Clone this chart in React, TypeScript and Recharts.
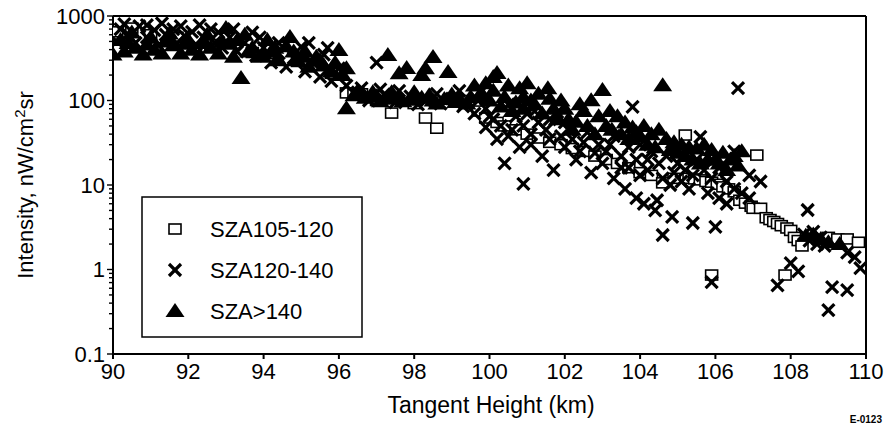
import React from "react";
import { ScatterChart, Scatter, XAxis, YAxis, ReferenceLine } from "recharts";

type Pt = [number, number];

const xTicks = [90, 92, 94, 96, 98, 100, 102, 104, 106, 108, 110];
const yMajorTicks = [0.1, 1, 10, 100, 1000];
const yMinorTicks = [
  0.2, 0.3, 0.4, 0.5, 0.6, 0.7, 0.8, 0.9,
  2, 3, 4, 5, 6, 7, 8, 9,
  20, 30, 40, 50, 60, 70, 80, 90,
  200, 300, 400, 500, 600, 700, 800, 900,
];
const seriesNames = ["SZA105-120", "SZA120-140", "SZA>140"];

const sza105to120: Pt[] = [
  [90.1, 650], [90.5, 720], [91.0, 600], [91.7, 560], [92.6, 460], [93.7, 370], [94.9, 290],
  [95.8, 210], [96.2, 123], [96.4, 118], [96.6, 120], [97.0, 100], [97.4, 71], [98.0, 92],
  [98.3, 62], [98.6, 47], [99.35, 100], [99.7, 75], [99.9, 62], [100.2, 55], [100.4, 50],
  [100.7, 45], [101.0, 40], [101.3, 36], [101.6, 32], [101.9, 30], [102.2, 27], [102.5, 25],
  [102.8, 22], [103.1, 20], [103.4, 18], [103.7, 16], [104.0, 14], [104.3, 13], [104.6, 10.6],
  [104.9, 12], [105.2, 39], [105.3, 12], [105.45, 11.8], [105.6, 11.5], [105.75, 11],
  [105.9, 10.8], [106.05, 10.2], [106.2, 9.5], [106.35, 9], [106.5, 8.3], [106.65, 6.6],
  [106.8, 6.1], [106.95, 5.6], [107.0, 5.3], [107.1, 22.6], [107.2, 5.3], [107.35, 4.1],
  [107.45, 3.9], [107.55, 3.7], [107.65, 3.5], [107.75, 3.3], [107.9, 3.1], [108.0, 2.9],
  [108.1, 2.4], [108.2, 2.2], [108.3, 1.9], [109.0, 2.4], [109.25, 2.3], [109.5, 2.3],
  [109.8, 2.1], [105.9, 0.86], [107.85, 0.86],
];

const sza120to140: Pt[] = [
  [90.1, 500], [90.2, 700], [90.3, 800], [90.4, 600], [90.6, 480], [90.7, 760], [90.9, 560],
  [90.9, 780], [91.1, 680], [91.2, 450], [91.3, 820], [91.4, 600], [91.6, 700], [91.7, 480],
  [91.8, 760], [91.9, 580], [92.1, 650], [92.2, 460], [92.3, 780], [92.4, 560], [92.6, 700],
  [92.7, 480], [92.8, 640], [92.9, 420], [93.1, 560], [93.2, 700], [93.3, 380], [93.5, 480],
  [93.7, 640], [93.8, 340], [93.9, 560], [94.0, 420], [94.2, 280], [94.4, 360], [94.4, 480],
  [94.6, 250], [94.8, 320], [95.0, 430], [95.1, 220], [95.2, 480], [95.3, 280], [95.5, 190],
  [95.6, 350], [95.7, 420], [95.8, 170], [96.0, 240], [96.2, 150], [97.0, 280], [96.5, 125],
  [96.6, 140], [96.8, 100], [97.1, 135], [97.2, 118], [97.5, 95], [97.6, 130], [97.9, 112],
  [98.1, 90], [98.3, 98], [98.6, 120], [98.7, 92], [99.0, 105], [99.2, 130], [99.3, 85],
  [99.6, 70], [99.7, 100], [99.8, 130], [99.9, 48], [99.9, 80], [100.0, 65], [100.1, 60],
  [100.2, 35], [100.3, 50], [100.4, 18], [100.5, 90], [100.5, 38], [100.6, 45], [100.7, 65],
  [100.8, 28], [100.9, 10.3], [100.9, 50], [101.0, 70], [101.1, 40], [101.1, 30], [101.2, 75],
  [101.3, 55], [101.4, 22], [101.5, 45], [101.6, 35], [101.6, 60], [101.7, 15], [101.8, 73],
  [101.9, 38], [102.0, 28], [102.0, 55], [102.1, 45], [102.2, 35], [102.3, 20], [102.4, 25],
  [102.5, 32], [102.6, 42], [102.7, 14], [102.8, 24], [102.9, 30], [103.0, 18], [103.1, 25],
  [103.2, 30], [103.3, 12], [103.3, 38], [103.5, 22], [103.5, 16], [103.6, 9], [103.7, 16],
  [103.7, 28], [103.8, 84], [103.9, 7], [103.9, 20], [104.0, 13], [104.0, 30], [104.1, 6],
  [104.2, 20], [104.2, 15], [104.3, 25], [104.4, 5], [104.45, 6.6], [104.5, 18], [104.6, 2.56],
  [104.6, 12], [104.7, 22], [104.8, 10], [104.85, 4.2], [104.9, 14], [105.0, 18], [105.1, 11],
  [105.2, 15], [105.4, 3.55], [105.3, 9], [105.4, 13], [105.6, 37], [105.5, 20], [105.7, 15],
  [105.8, 8], [105.9, 12], [106.0, 3.2], [105.9, 0.71], [106.1, 7], [106.1, 16], [106.3, 11],
  [106.5, 25], [106.5, 9], [106.3, 6], [106.6, 140], [106.7, 8], [106.9, 7], [106.9, 13],
  [107.2, 11], [107.65, 0.65], [108.0, 1.19], [108.2, 0.95], [108.45, 5.06], [108.35, 2.6],
  [108.5, 2.2], [108.6, 2.8], [108.7, 2.0], [108.8, 2.4], [108.9, 1.9], [109.0, 0.33],
  [109.1, 0.62], [109.5, 0.57], [109.5, 1.58], [109.7, 1.4], [109.85, 1.04],
];

const szaOver140: Pt[] = [
  [90.0, 350], [90.2, 520], [90.3, 380], [90.4, 480], [90.5, 640], [90.6, 420], [90.8, 350],
  [90.9, 460], [91.0, 560], [91.1, 400], [91.3, 360], [91.4, 500], [91.5, 620], [91.6, 450],
  [91.8, 360], [91.9, 470], [92.0, 520], [92.1, 400], [92.3, 350], [92.4, 480], [92.5, 600],
  [92.6, 420], [92.8, 360], [92.9, 500], [93.0, 720], [93.1, 470], [93.2, 330], [93.3, 520],
  [93.4, 185], [93.5, 600], [93.6, 380], [93.7, 420], [93.9, 330], [94.0, 360], [94.1, 520],
  [94.2, 380], [94.3, 420], [94.4, 300], [94.6, 440], [94.7, 565], [94.8, 380], [94.9, 300],
  [95.0, 330], [95.1, 380], [95.2, 250], [95.4, 330], [95.5, 300], [95.6, 260], [95.8, 220],
  [95.9, 280], [96.0, 395], [96.1, 200], [96.2, 240], [96.2, 81], [96.4, 115], [96.5, 130],
  [96.7, 108], [96.9, 125], [97.0, 112], [97.1, 98], [97.3, 105], [97.4, 125], [97.6, 110],
  [97.7, 98], [97.9, 102], [98.0, 125], [98.2, 108], [98.4, 115], [98.5, 100], [98.6, 92],
  [98.8, 104], [99.0, 118], [99.1, 96], [99.2, 105], [99.4, 92], [99.5, 110], [97.3, 345],
  [97.6, 210], [97.8, 243], [98.2, 200], [98.3, 240], [98.5, 327], [98.9, 217], [99.6, 150],
  [99.7, 110], [99.8, 120], [99.9, 160], [100.0, 100], [100.1, 190], [100.1, 130], [100.2, 211],
  [100.3, 85], [100.4, 110], [100.5, 150], [100.6, 75], [100.7, 95], [100.8, 140], [100.9, 110],
  [100.9, 80], [101.0, 160], [101.1, 100], [101.2, 90], [101.3, 120], [101.4, 70], [101.55, 140],
  [101.6, 105], [101.7, 80], [101.8, 60], [101.9, 100], [102.0, 80], [102.1, 60], [102.2, 45],
  [102.3, 56], [102.4, 90], [102.5, 75], [102.6, 50], [102.7, 101], [102.8, 40], [102.9, 65],
  [103.0, 133], [103.1, 50], [103.2, 75], [103.25, 45], [103.4, 65], [103.5, 40], [103.6, 55],
  [103.7, 35], [103.8, 48], [103.9, 42], [104.0, 38], [104.1, 50], [104.2, 30], [104.3, 40],
  [104.4, 28], [104.5, 45], [104.6, 152], [104.7, 35], [104.8, 26], [104.9, 32], [105.0, 24],
  [105.1, 30], [105.2, 22], [105.3, 28], [105.4, 20], [105.5, 27], [105.6, 18], [105.7, 30],
  [105.8, 20], [105.9, 26], [106.0, 20], [106.1, 18], [106.2, 24], [106.3, 15], [106.4, 20],
  [106.5, 22], [106.6, 17], [106.7, 25], [108.4, 2.5], [108.6, 2.6], [108.8, 2.3], [109.0, 2.1],
  [109.3, 2.0],
];

const toRows = (pts: Pt[]) => pts.map(([x, y]) => ({ x, y }));

const FONT = "'Liberation Sans', Arial, Helvetica, sans-serif";

const SquareShape = (p: any) => {
  const { cx, cy } = p;
  if (cx == null || cy == null) return <g />;
  return <rect x={cx - 6} y={cy - 5} width={12} height={10} fill="#fff" stroke="#000" strokeWidth={1.6} />;
};
const CrossShape = (p: any) => {
  const { cx, cy } = p;
  if (cx == null || cy == null) return <g />;
  const s = 6;
  return (
    <g stroke="#000" strokeWidth={3.2}>
      <line x1={cx - s} y1={cy - s} x2={cx + s} y2={cy + s} />
      <line x1={cx - s} y1={cy + s} x2={cx + s} y2={cy - s} />
    </g>
  );
};
const TriangleShape = (p: any) => {
  const { cx, cy } = p;
  if (cx == null || cy == null) return <g />;
  return <polygon points={`${cx},${cy - 8} ${cx - 9.5},${cy + 6} ${cx + 9.5},${cy + 6}`} fill="#000" />;
};

const fmtY = (v: number) => (v < 1 ? String(v) : String(Math.round(v)));

const YTick = (props: any) => {
  const { x, y, payload } = props;
  const major = yMajorTicks.includes(payload.value);
  return (
    <g>
      <line x1={x - (major ? 6 : 4)} x2={x} y1={y} y2={y} stroke="#000" strokeWidth={1.4} />
      {major && (
        <text x={x - 8} y={y} dy="0.36em" textAnchor="end" fontSize={22} fontFamily={FONT} fill="#000">
          {fmtY(payload.value)}
        </text>
      )}
    </g>
  );
};

const YLabel = () => (
  <text transform="translate(33,185) rotate(-90)" textAnchor="middle" fontSize={22} fontFamily={FONT} fill="#000">
    Intensity, nW/cm<tspan dy={-8} fontSize={15}>2</tspan>
    <tspan dy={8}>sr</tspan>
  </text>
);

const XLabel = () => (
  <g>
    <text x={491} y={413} textAnchor="middle" fontSize={23} fontFamily={FONT} fill="#000">
      Tangent Height (km)
    </text>
    <text x={882} y={423} textAnchor="end" fontSize={10} fontWeight="bold" fontFamily={FONT} fill="#000">
      E-0123
    </text>
  </g>
);

const LegendBox = () => (
  <svg
    width={224}
    height={144}
    style={{ position: "absolute", left: 140, top: 195, overflow: "visible" }}
  >
    <rect x={2} y={2} width={220} height={140} fill="#fff" stroke="#000" strokeWidth={1.5} />
    <SquareShape cx={35} cy={34} />
    <CrossShape cx={35} cy={75} />
    <TriangleShape cx={35} cy={116} />
    {seriesNames.map((n, i) => (
      <text key={n} x={70} y={34 + i * 41} dy="0.36em" fontSize={22} fontFamily={FONT} fill="#000">
        {n}
      </text>
    ))}
  </svg>
);

export default function App() {
  return (
    <div style={{ position: "absolute", left: 0, top: 0, width: 889, height: 429 }}>
      <ScatterChart width={889} height={429} margin={{ top: 16, right: 23, bottom: 0, left: 0 }}>
        <XAxis
          type="number"
          dataKey="x"
          domain={[90, 110]}
          ticks={xTicks}
          interval={0}
          allowDataOverflow
          height={75}
          stroke="#000"
          strokeWidth={2}
          tickSize={5}
          tickMargin={4}
          tick={{ fontSize: 22, fontFamily: FONT, fill: "#000" }}
          label={{ content: XLabel }}
        />
        <YAxis
          type="number"
          dataKey="y"
          scale="log"
          domain={[0.1, 1000]}
          ticks={[...yMajorTicks, ...yMinorTicks]}
          interval={0}
          allowDataOverflow
          width={113}
          stroke="#000"
          strokeWidth={2}
          tickLine={false}
          tickSize={0}
          tickMargin={0}
          tick={<YTick />}
          label={{ content: YLabel }}
        />
        <ReferenceLine y={1000} stroke="#000" strokeWidth={2} />
        <ReferenceLine x={110} stroke="#000" strokeWidth={2} />
        <Scatter name={seriesNames[0]} data={toRows(sza105to120)} shape={SquareShape} isAnimationActive={false} />
        <Scatter name={seriesNames[1]} data={toRows(sza120to140)} shape={CrossShape} isAnimationActive={false} />
        <Scatter name={seriesNames[2]} data={toRows(szaOver140)} shape={TriangleShape} isAnimationActive={false} />
      </ScatterChart>
      <LegendBox />
    </div>
  );
}
